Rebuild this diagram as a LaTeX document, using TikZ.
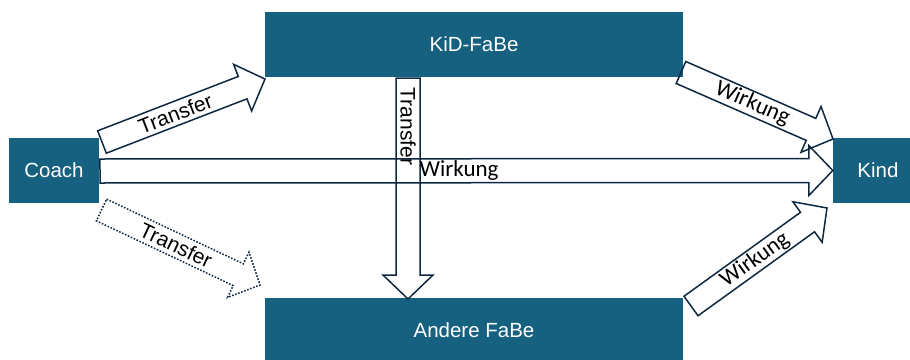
\documentclass[tikz,border=0pt]{standalone}
\usepackage{fontspec}
\setmainfont{Liberation Sans}
\newfontfamily\wfont{Carlito}
\usetikzlibrary{calc}
\definecolor{boxblue}{RGB}{22,96,128}
\definecolor{arrowline}{RGB}{14,40,65}
\newcommand\blockarrow[3][]{%
  \path coordinate (hb) at ($(#3)!24pt!(#2)$);
  \draw[barrow,#1] ($(#2)!12pt!90:(#3)$) -- ($(hb)!12pt!90:(#3)$) -- ($(hb)!25pt!90:(#3)$) -- (#3)
    -- ($(hb)!25pt!-90:(#3)$) -- ($(hb)!12pt!-90:(#3)$) -- ($(#2)!12pt!-90:(#3)$) -- cycle;}
\begin{document}
\begin{tikzpicture}[x=1pt,y=-1pt,
  box/.style={draw=none, fill=boxblue, text=white, font=\fontsize{20.5}{24}\selectfont, inner sep=0pt},
  barrow/.style={draw=arrowline, line width=1.5pt, line join=miter},
  dotarrow/.style={dash pattern=on 1.6pt off 1.6pt},
  lbl/.style={font=\fontsize{21}{24}\selectfont, inner sep=0pt},
  wlbl/.style={font=\wfont\fontsize{23}{26}\selectfont, inner sep=0pt}]
\useasboundingbox (0,0) rectangle (910,359);
\clip (0,0) rectangle (910,359);
\node[box, minimum width=90pt, minimum height=65pt] (coach) at (54,170.5) {Coach};
\node[box, minimum width=418pt, minimum height=65pt] (kid) at (474,44.5) {KiD-FaBe};
\node[box, minimum width=418pt, minimum height=65pt] (andere) at (474,330.5) {Andere FaBe};
\node[box, minimum width=90pt, minimum height=65pt] (kind) at (878,170.5) {Kind};
% connector end points
\coordinate (t1s) at (102,142);   \coordinate (t1e) at (265,79);
\coordinate (t2s) at (101.5,210); \coordinate (t2e) at (260,285);
\coordinate (t3s) at (408,78);    \coordinate (t3e) at (408,299);
\coordinate (t4s) at (100,171);   \coordinate (t4e) at (kind.west);
\coordinate (w1s) at (681,72.5);  \coordinate (w1e) at (833,139);
\coordinate (w2s) at (691,306);   \coordinate (w2e) at (827,208);
% block arrows
\blockarrow{t1s}{t1e}
\blockarrow[dotarrow]{t2s}{t2e}
\blockarrow{t3s}{t3e}
\blockarrow{t4s}{t4e}
\blockarrow{w1s}{w1e}
\blockarrow{w2s}{w2e}
% labels
\path (t1s) -- node[lbl, sloped, pos=0.45] {Transfer} (t1e);
\path (t2s) -- node[lbl, sloped, pos=0.47] {Transfer} (t2e);
\node[lbl, rotate=-90] (tl3) at ($(t3s)!0.22!(t3e)$) {Transfer};
\path (t4s) -- node[wlbl, pos=0.49] {Wirkung} (t4e);
\path (w1s) -- node[wlbl, sloped, pos=0.47] {Wirkung} (w1e);
\path (w2s) -- node[wlbl, sloped, pos=0.47] {Wirkung} (w2e);
\end{tikzpicture}
\end{document}
